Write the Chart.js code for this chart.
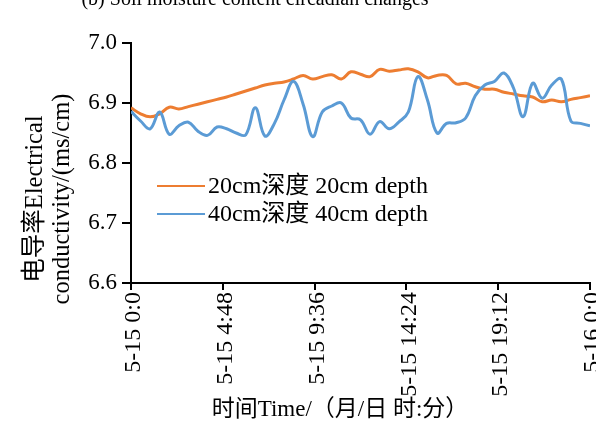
<!DOCTYPE html>
<html>
<head>
<meta charset="utf-8">
<script src="https://cdn.jsdelivr.net/npm/chart.js@4.4.0/dist/chart.umd.min.js"></script>
<style>
  html, body { margin: 0; padding: 0; background: #fff; overflow: hidden; }
  #wrap { width: 596px; height: 428px; }
</style>
</head>
<body>
<div id="wrap"><canvas id="ecChart" width="596" height="428"></canvas></div>
<script>
// 时间（小时，自 5-15 0:00 起，每 30 分钟）
const hours = [0, 0.5, 1, 1.5, 2, 2.5, 3, 3.5, 4, 4.5, 5, 5.5, 6, 6.5, 7, 7.5,
    8, 8.5, 9, 9.5, 10, 10.5, 11, 11.5, 12, 12.5, 13, 13.5, 14, 14.5, 15, 15.5,
    16, 16.5, 17, 17.5, 18, 18.5, 19, 19.5, 20, 20.5, 21, 21.5, 22, 22.5, 23, 23.5, 24];

// 20cm 深度电导率 (ms/cm)
const ec20 = [6.892, 6.882, 6.877, 6.882, 6.893, 6.890, 6.894, 6.898, 6.902, 6.906,
    6.910, 6.915, 6.920, 6.925, 6.930, 6.933, 6.935, 6.940, 6.946, 6.940,
    6.944, 6.947, 6.940, 6.952, 6.948, 6.944, 6.956, 6.953, 6.955, 6.957,
    6.952, 6.942, 6.946, 6.946, 6.932, 6.933, 6.927, 6.923, 6.923, 6.918,
    6.915, 6.912, 6.910, 6.902, 6.905, 6.902, 6.906, 6.909, 6.912];

// 40cm 深度电导率 (ms/cm)
const ec40 = [6.886, 6.870, 6.857, 6.885, 6.848, 6.862, 6.868, 6.853, 6.846, 6.860,
    6.857, 6.850, 6.847, 6.892, 6.845, 6.866, 6.905, 6.936, 6.898, 6.844,
    6.885, 6.895, 6.900, 6.875, 6.872, 6.848, 6.869, 6.857, 6.868, 6.885,
    6.944, 6.905, 6.850, 6.866, 6.867, 6.875, 6.912, 6.930, 6.936, 6.950,
    6.925, 6.877, 6.933, 6.908, 6.930, 6.940, 6.870, 6.866, 6.862];

// 横轴刻度
const tickHours = [0, 4.8, 9.6, 14.4, 19.2, 24];
const tickLabels = ['5-15 0:0', '5-15 4:48', '5-15 9:36', '5-15 14:24', '5-15 19:12', '5-16 0:0'];

const seriesNames = ['20cm深度 20cm depth', '40cm深度 40cm depth'];
const seriesColors = ['#ED7D31', '#5B9BD5'];

const SERIF = "'Liberation Serif', 'Noto Sans CJK SC', serif";

// 标题、坐标轴名称和图例自己画
const textPlugin = {
    id: 'textPlugin',
    afterDraw(chart) {
        const ctx = chart.ctx;
        ctx.save();
        ctx.fillStyle = '#000';

        // 上方被裁掉一半的小标题
        ctx.font = '20px ' + SERIF;
        ctx.textAlign = 'center';
        ctx.textBaseline = 'alphabetic';
        ctx.fillText('(b) Soil moisture content circadian changes', 255, 5);

        // 横轴名称
        ctx.font = '23px ' + SERIF;
        ctx.textBaseline = 'middle';
        ctx.fillText('时间Time/（月/日 时:分）', 340, 410);

        // 纵轴名称（两行）
        ctx.font = '24.5px ' + SERIF;
        ctx.translate(0, 199);
        ctx.rotate(-Math.PI / 2);
        ctx.fillText('电导率Electrical', 0, 36);
        ctx.fillText('conductivity/(ms/cm)', 0, 63);
        ctx.setTransform(1, 0, 0, 1, 0, 0);

        // 图例
        ctx.textAlign = 'left';
        ctx.font = '24px ' + SERIF;
        const rows = [186, 214];
        seriesNames.forEach((name, i) => {
            ctx.strokeStyle = seriesColors[i];
            ctx.lineWidth = 2;
            ctx.beginPath();
            ctx.moveTo(157, rows[i]);
            ctx.lineTo(205, rows[i]);
            ctx.stroke();
            ctx.fillText(name, 208, rows[i] + 1);
        });
        ctx.restore();
    }
};

const ctx = document.getElementById('ecChart').getContext('2d');
new Chart(ctx, {
    type: 'line',
    data: {
        datasets: [
            {
                label: seriesNames[0],
                data: hours.map((h, i) => ({ x: h, y: ec20[i] })),
                borderColor: seriesColors[0],
                borderWidth: 3,
                pointRadius: 0,
                tension: 0.4,
                fill: false,
                order: 1
            },
            {
                label: seriesNames[1],
                data: hours.map((h, i) => ({ x: h, y: ec40[i] })),
                borderColor: seriesColors[1],
                borderWidth: 3,
                pointRadius: 0,
                tension: 0.4,
                fill: false,
                order: 0
            }
        ]
    },
    options: {
        responsive: false,
        animation: false,
        layout: { padding: { top: 43, right: 6, bottom: 0, left: 0 } },
        plugins: {
            legend: { display: false },
            tooltip: { enabled: false },
            title: { display: false }
        },
        scales: {
            x: {
                type: 'linear',
                min: 0,
                max: 24,
                afterBuildTicks: scale => {
                    scale.ticks = tickHours.map(v => ({ value: v }));
                },
                afterFit: scale => {
                    scale.height = 145;
                    scale.paddingLeft = 0;
                    scale.paddingRight = 0;
                },
                ticks: {
                    callback: (v, i) => tickLabels[i],
                    minRotation: 90,
                    maxRotation: 90,
                    autoSkip: false,
                    padding: 2,
                    labelOffset: 3,
                    color: '#000',
                    font: { family: SERIF, size: 24 }
                },
                grid: {
                    drawOnChartArea: false,
                    drawTicks: true,
                    tickLength: 7,
                    color: '#000',
                    lineWidth: 2
                },
                border: { color: '#000', width: 2 }
            },
            y: {
                min: 6.6,
                max: 7.0,
                afterFit: scale => {
                    scale.width = 131;
                    scale.paddingTop = 0;
                    scale.paddingBottom = 0;
                },
                ticks: {
                    stepSize: 0.1,
                    callback: v => v.toFixed(1),
                    padding: 5,
                    color: '#000',
                    font: { family: SERIF, size: 23 }
                },
                grid: {
                    drawOnChartArea: false,
                    drawTicks: true,
                    tickLength: 9,
                    color: '#000',
                    lineWidth: 2
                },
                border: { color: '#000', width: 2 }
            }
        }
    },
    plugins: [textPlugin]
});
</script>
</body>
</html>
